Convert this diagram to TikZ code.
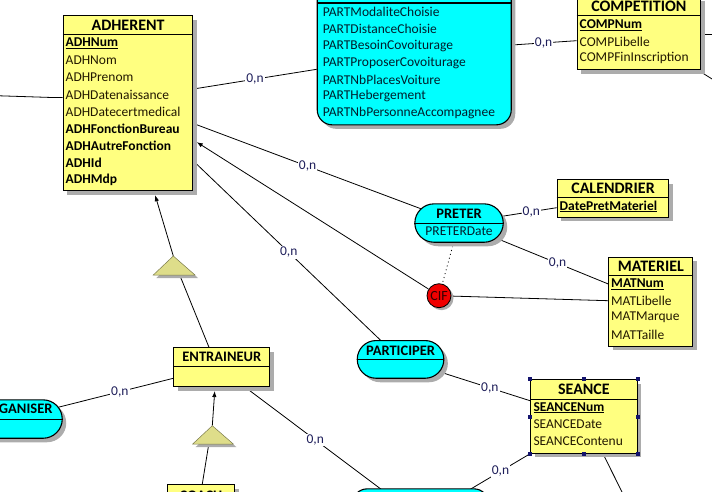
\documentclass[tikz,border=0pt]{standalone}
\usepackage{fontspec}
\setmainfont{Carlito}
\usepackage{tikz}
\usetikzlibrary{arrows.meta}
\usetikzlibrary{shadows}
\usetikzlibrary{backgrounds}
\definecolor{jaune}{RGB}{255,255,128}
\definecolor{cyanasso}{RGB}{0,255,255}
\definecolor{rougecif}{RGB}{240,0,0}
\definecolor{kaki}{RGB}{222,221,138}
\definecolor{ombre}{RGB}{172,172,172}
\definecolor{texteattr}{RGB}{34,24,0}
\definecolor{texteasso}{RGB}{0,30,44}
\definecolor{textecard}{RGB}{30,30,90}
\definecolor{poignee}{RGB}{20,20,110}
\newcommand{\taille}{\fontsize{13.5}{16}\selectfont}
\newcommand{\cle}[1]{\textcolor{black}{\underline{\textbf{#1}}}}
\newcommand{\gras}[1]{\textcolor{black}{\textbf{#1}}}

\begin{document}
\begin{tikzpicture}[x=1pt, y=-1pt, font=\taille,
  entite/.style={draw, line width=1.1pt, fill=jaune, anchor=north west, inner sep=0pt,
    drop shadow={shadow xshift=4pt, shadow yshift=-4pt, fill=ombre, opacity=1}},
  asso/.style={entite, fill=cyanasso, rounded corners=#1},
  titre/.style={inner sep=0pt, font=\fontsize{16}{18}\selectfont\bfseries},
  titreasso/.style={inner sep=0pt, font=\fontsize{14.5}{17}\selectfont\bfseries},
  attr/.style={anchor=west, inner sep=0pt, text=texteattr},
  attrasso/.style={attr, text=texteasso},
  sep/.style={line width=1.1pt},
  lien/.style={line width=0.8pt},
  fleche/.style={lien, -{Latex[length=6pt,width=4.5pt]}, shorten >=4pt},
  card/.style={fill=white, inner sep=1pt, text=textecard},
  spec/.style={fill=kaki, draw=kaki!55!black, line width=0.5pt}]
    \useasboundingbox (0,0) rectangle (712,492);

    % entites
    \node[entite, minimum width=129.6, minimum height=175] (adh) at (62.7,15.3) {};
    \draw[sep] (adh.west |- 0,34.7) -- (adh.east |- 0,34.7);
    \node[titre] (adh-t) at (adh.north |- 0,25) {ADHERENT};
    \foreach \t [count=\i from 0] in {\cle{ADHNum}, ADHNom, ADHPrenom, ADHDatenaissance, ADHDatecertmedical, \gras{ADHFonctionBureau}, \gras{ADHAutreFonction}, \gras{ADHId}, \gras{ADHMdp}}
        \node[attr] (adh-\i) at (65.5,43.5+17*\i) {\t};

    \node[entite, minimum width=123.3, minimum height=73] (comp) at (576.7,-4) {};
    \draw[sep] (comp.west |- 0,15.3) -- (comp.east |- 0,15.3);
    \node[titre] (comp-t) at (comp.north |- 0,6) {COMPETITION};
    \foreach \t [count=\i from 0] in {\cle{COMPNum}, COMPLibelle, COMPFinInscription}
        \node[attr] (comp-\i) at (579.5,25+16.5*\i) {\t};

    \node[entite, minimum width=111.6, minimum height=37.7] (cal) at (556.7,179) {};
    \draw[sep] (cal.west |- 0,197.3) -- (cal.east |- 0,197.3);
    \node[titre] (cal-t) at (cal.north |- 0,188.3) {CALENDRIER};
    \node[attr] (cal-0) at (559.5,206.5) {\cle{DatePretMateriel}};

    \node[entite, minimum width=84, minimum height=89] (mat) at (608.3,256.7) {};
    \draw[sep] (mat.west |- 0,275.3) -- (mat.east |- 0,275.3);
    \node[titre] (mat-t) at (mat.north |- 0,266.7) {MATERIEL};
    \foreach \t [count=\i from 0] in {\cle{MATNum}, MATLibelle, MATMarque, MATTaille}
        \node[attr] (mat-\i) at (611,284.3+16.7*\i) {\t};

    \node[entite, minimum width=106.7, minimum height=73.4] (seance) at (530,379.3) {};
    \draw[sep] (seance.west |- 0,399.3) -- (seance.east |- 0,399.3);
    \node[titre] (seance-t) at (seance.north |- 0,389.3) {SEANCE};
    \foreach \t [count=\i from 0] in {\cle{SEANCENum}, SEANCEDate, SEANCEContenu}
        \node[attr] (seance-\i) at (533.3,407.7+16.8*\i) {\t};
    \foreach \a in {north west, north, north east, east, south east, south, south west, west}
        \fill[poignee] (seance.\a) ++(-2,-2) rectangle ++(4,4);

    \node[entite, minimum width=96, minimum height=38.7] (entr) at (173.3,347.3) {};
    \draw[sep] (entr.west |- 0,366.7) -- (entr.east |- 0,366.7);
    \node[titreasso] (entr-t) at (entr.north |- 0,357.3) {ENTRAINEUR};

    \node[entite, minimum width=67.6, minimum height=46] (coach) at (166.7,484) {};
    \node[titreasso] (coach-t) at (coach.north |- 0,495.5) {COACH};

    % associations
    \node[asso=15, minimum width=194, minimum height=164.3] (part) at (316.7,-40) {};
    \draw[sep] (part.west |- 0,3) -- (part.east |- 0,3);
    \foreach \t [count=\i from 0] in {PARTModaliteChoisie, PARTDistanceChoisie, PARTBesoinCovoiturage, PARTProposerCovoiturage, PARTNbPlacesVoiture, PARTHebergement, PARTNbPersonneAccompagnee}
        \node[attrasso] (part-\i) at (322.7,11.7+16.95*\i) {\t};

    \node[asso=19.2, minimum width=88.4, minimum height=38.4] (preter) at (414.3,203.3) {};
    \draw[sep] (preter.west) -- (preter.east);
    \node[titreasso] (preter-t) at (preter.north |- 0,213.3) {PRETER};
    \node[inner sep=0pt, text=texteasso] (preter-0) at (preter.north |- 0,231.7) {PRETERDate};

    \node[asso=18.8, minimum width=86.6, minimum height=37.7] (particip) at (356.7,340) {};
    \draw[sep] (particip.west) -- (particip.east);
    \node[titreasso] (particip-t) at (particip.north |- 0,350.7) {PARTICIPER};

    \node[asso=19.2, minimum width=101.7, minimum height=38.4] (org) at (-40,399.3) {};
    \draw[sep] (org.west) -- (org.east);
    \node[titreasso, anchor=east] (org-t) at (52.7,408.3) {ORGANISER};

    \node[asso=15, minimum width=136.6, minimum height=60] (bas) at (351.7,488.3) {};

    % contrainte
    \node[circle, draw, line width=0.8pt, fill=rougecif, minimum size=24, inner sep=0pt,
        font=\fontsize{14}{14}\selectfont, text=black!80!red,
        drop shadow={shadow xshift=2.5pt, shadow yshift=-2.5pt, fill=ombre, opacity=1}] (cif) at (439,295.7) {CIF};

    % specialisations
    \coordinate (spec1) at (173.3,256);
    \coordinate (spec1b) at (180.5,277);
    \fill[ombre] ([shift={(3,3)}]spec1) -- ++(-20,19) -- ++(41.7,0) -- cycle;
    \filldraw[spec] (spec1) -- ++(-20,19) -- ++(41.7,0) -- cycle;
    \coordinate (spec2) at (212.3,425.7);
    \coordinate (spec2b) at (208.3,447);
    \fill[ombre] ([shift={(3,3)}]spec2) -- ++(-19.6,18.3) -- ++(40.6,0) -- cycle;
    \filldraw[spec] (spec2) -- ++(-19.6,18.3) -- ++(40.6,0) -- cycle;

    % bouts hors cadre
    \coordinate (hg) at (-10,95.5);
    \coordinate (hd1) at (720,34.3);
    \coordinate (hd2) at (720,84);
    \coordinate (hs) at (626,500);

    % liens
    \begin{scope}[on background layer]
        \draw[lien] (hg) -- ++(62,2) -- (adh.west |- 0,97.5);
        \draw[lien] (adh.east |- 0,89) -- node[card, pos=.5] (c1) {0,n} (part.west |- 0,69.3);
        \draw[lien] (part.east |- 0,45) -- node[card, pos=.49] (c2) {0,n} (comp.west |- 0,40.7);
        \draw[lien] (comp.east |- 0,34.3) -- (hd1);
        \draw[lien] (comp.center) -- (hd2);
        \draw[lien] (adh.east |- 0,123.5) -- node[card, pos=.43] (c3) {0,n} (preter.center);
        \draw[lien] (adh.east |- 0,161) -- node[card, pos=.46] (c4) {0,n} (particip.center);
        \draw[lien] (preter.center) -- node[card, pos=.74] (c5) {0,n} (cal.west |- 0,207.7);
        \draw[lien] (preter.center) -- node[card, pos=.66] (c6) {0,n} (mat.west |- 0,284);
        \draw[fleche] (cif) -- (adh.east |- 0,140);
        \draw[lien] (cif) -- (mat.west |- 0,300.7);
        \draw[lien, dash pattern=on 1pt off 3pt, shorten >=4pt, shorten <=2pt] (cif) -- (preter);
        \draw[lien] (particip.center) -- node[card, pos=.69] (c7) {0,n} (seance.west |- 0,400.7);
        \draw[lien] (seance.south west) -- node[card, pos=.27] (c8) {0,n} (bas.center);
        \draw[lien] (603,0 |- seance.south) -- (hs);
        \draw[lien] (245,0 |- entr.south) -- node[card, pos=.4] (c9) {0,n} (bas.center);
        \draw[lien] (org.center) -- node[card, pos=.67] (c10) {0,n} (entr.west |- 0,378.3);
        \draw[lien] (209,0 |- entr.north) -- (spec1b);
        \draw[fleche] (spec1) -- (154,0 |- adh.south);
        \draw[lien] (202.3,0 |- coach.north) -- (spec2b);
        \draw[fleche] (spec2) -- (215,0 |- entr.south);
    \end{scope}
\end{tikzpicture}
\end{document}
